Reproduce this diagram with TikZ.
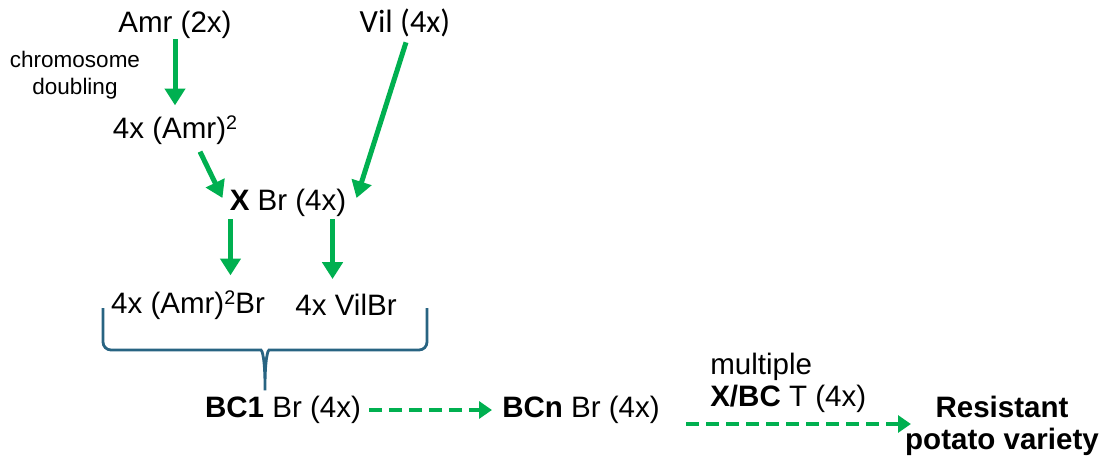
\documentclass[tikz,border=0pt]{standalone}
\usepackage{fontspec}
\setmainfont{Liberation Sans}
\newfontfamily\calibri{Carlito}
\usetikzlibrary{arrows.meta,calc}
\definecolor{crossgreen}{RGB}{0,176,80}
\definecolor{braceblue}{RGB}{40,100,130}
% small raised 2 for the doubled genome
\newcommand{\sqtwo}{\raisebox{0.3em}{\fontsize{14}{14}\selectfont 2}}

\begin{document}
\begin{tikzpicture}[x=0.025cm,y=-0.025cm,
    lbl/.style={inner sep=0pt,font=\fontsize{21}{23}\selectfont},
    small/.style={inner sep=0pt,align=center,font=\fontsize{16}{19}\selectfont},
    solidarrow/.style={crossgreen,line width=0.125cm,-{Triangle[width=0.5cm,length=0.42cm]}},
    dasharrow/.style={crossgreen,line width=0.12cm,dash pattern=on 0.33cm off 0.17cm,
        -{Triangle[width=0.42cm,length=0.32cm]}},
    brace/.style={braceblue,line width=0.07cm,rounded corners=0.2cm}]
    \useasboundingbox (0,0) rectangle (1110,459);

    % parents and first cross
    \node[lbl] (amr) at (175,25) {Amr (2x)};
    \node[lbl,font=\calibri\fontsize{23}{27}\selectfont] (vil) at (405,23) {Vil (4x)};
    \node[small] (dbl) at (75,75) {chromosome\\doubling};
    \node[lbl] (amrfour) at (175,130) {4x (Amr)\sqtwo};
    \node[lbl] (cross) at (288,203) {\textbf{X} Br (4x)};
    \node[lbl] (amrbr) at (188,305) {4x (Amr)\sqtwo Br};
    \node[lbl] (vilbr) at (346,305) {4x VilBr};

    % backcrosses
    \node[lbl] (bcone) at (283,410) {\textbf{BC1} Br (4x)};
    \node[lbl] (bcn) at (581,410) {\textbf{BCn} Br (4x)};
    \node[lbl,align=left,anchor=west] (multi) at (710,383) {multiple\\\textbf{X/BC} T (4x)};
    \node[lbl,align=center,font=\fontsize{21}{23}\selectfont\bfseries] (variety) at (1002,426)
        {Resistant\\potato variety};

    \draw[solidarrow] (amr.south) -- ($(amrfour.north)+(0,-10)$);
    \draw[solidarrow] ($(amrfour.south)+(25,7)$) -- ($(cross.west)+(-7,-5)$);
    \draw[solidarrow] ($(vil.south)+(1,5)$) -- ($(cross.east)+(10,-5)$);
    \draw[solidarrow] ($(cross.south west)+(1,2)$) -- ($(cross.south west |- amrbr.north)+(1,-15)$);
    \draw[solidarrow] ($(cross.south east)+(-14,2)$) -- ($(cross.south east |- vilbr.north)+(-14,-15)$);

    % brace under both hybrids
    \draw[brace] (103,308) -- (103,350) -- (253,350)
        .. controls (262,350) and (265,358) .. (265,395)
        .. controls (265,358) and (268,350) .. (277,350) -- (427,350) -- (427,308);

    \draw[dasharrow] ($(bcone.east)+(8,0)$) -- ($(bcn.west)+(-10,0)$);
    \draw[dasharrow] ($(bcn.east)+(26,14)$) -- ($(variety.west |- bcn.east)+(6,14)$);
\end{tikzpicture}
\end{document}
